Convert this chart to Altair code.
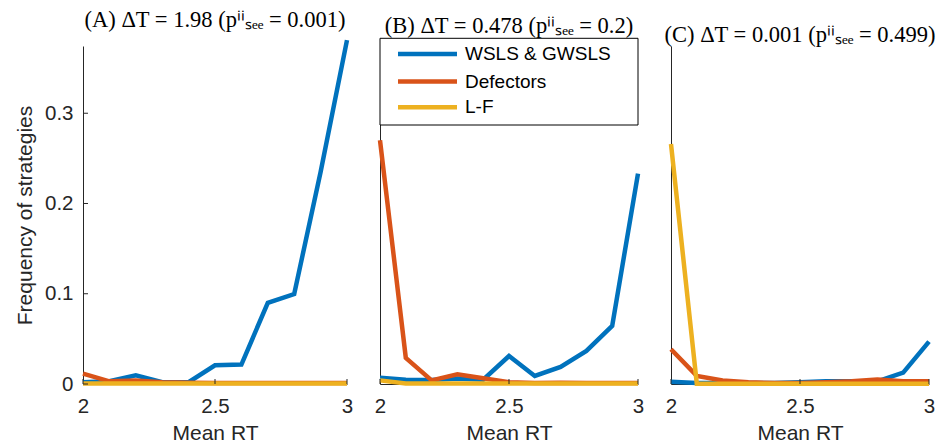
import altair as alt
import pandas as pd

# Mean response time grid (x) shared by all three panels
rt = [2.0, 2.1, 2.2, 2.3, 2.4, 2.5, 2.6, 2.7, 2.8, 2.9, 3.0]

series = ["WSLS & GWSLS", "Defectors", "L-F"]
colors = ["#0072BD", "#D95319", "#EDB120"]

# Panel A
a_wsls = [0.002, 0.003, 0.0097, 0.002, 0.002, 0.0207, 0.0215, 0.090, 0.0997, 0.235, 0.381]
a_defect = [0.0115, 0.003, 0.004, 0.002, 0.0015, 0.001, 0.001, 0.001, 0.001, 0.001, 0.001]
a_lf = [0.0005, 0.0005, 0.0005, 0.0005, 0.0005, 0.0005, 0.0005, 0.0005, 0.0005, 0.0005, 0.0005]

# Panel B
b_wsls = [0.007, 0.0048, 0.0045, 0.006, 0.0048, 0.031, 0.0089, 0.019, 0.0367, 0.0644, 0.233]
b_defect = [0.27, 0.029, 0.004, 0.0107, 0.0063, 0.002, 0.001, 0.0015, 0.001, 0.001, 0.001]
b_lf = [0.004, 0.0005, 0.0005, 0.0005, 0.0005, 0.0005, 0.0005, 0.0005, 0.0005, 0.0005, 0.0005]

# Panel C
c_wsls = [0.0026, 0.001, 0.001, 0.001, 0.001, 0.002, 0.003, 0.003, 0.003, 0.0126, 0.047]
c_defect = [0.0385, 0.009, 0.004, 0.002, 0.001, 0.001, 0.002, 0.003, 0.005, 0.003, 0.003]
c_lf = [0.266, 0.0002, 0.0002, 0.0002, 0.0002, 0.0002, 0.0002, 0.0002, 0.0002, 0.0002, 0.0002]

titles = [
    "(A) ΔT = 1.98 (pⁱⁱₛₑₑ = 0.001)",
    "(B) ΔT = 0.478 (pⁱⁱₛₑₑ = 0.2)",
    "(C) ΔT = 0.001 (pⁱⁱₛₑₑ = 0.499)",
]

x_ticks = [2, 2.5, 3]
y_ticks = [0, 0.1, 0.2, 0.3]

Y_MAX = 0.3745
H = 338
AX = "#262626"
LW = 4.5

cscale = alt.Scale(domain=series, range=colors)


def panel(values, title, width, first=False, legend=False):
    frames = []
    for s, v in zip(series, values):
        frames.append(pd.DataFrame({"rt": rt, "freq": v, "series": s}))

    xenc = alt.X(
        "rt:Q",
        scale=alt.Scale(domain=[2, 3], nice=False, zero=False),
        axis=alt.Axis(values=x_ticks, format="~g", title="Mean RT", labelFlush=False),
    )
    if first:
        yaxis = alt.Axis(values=y_ticks, format="~g", title="Frequency of strategies")
    else:
        yaxis = alt.Axis(labels=False, title=None, values=y_ticks)
    yenc = alt.Y("freq:Q", scale=alt.Scale(domain=[0, Y_MAX], nice=False), axis=yaxis)

    layers = []
    for df in frames:
        layers.append(
            alt.Chart(df)
            .mark_line(strokeWidth=LW, clip=False)
            .encode(x=xenc, y=yenc, color=alt.Color("series:N", scale=cscale, legend=None))
        )

    # inward tick marks on the x axis
    layers.append(
        alt.Chart(pd.DataFrame({"rt": x_ticks}))
        .mark_rule(color=AX, strokeWidth=1)
        .encode(x=alt.X("rt:Q"), y=alt.value(H), y2=alt.value(H - 5))
    )
    if first:
        layers.append(
            alt.Chart(pd.DataFrame({"freq": y_ticks}))
            .mark_rule(color=AX, strokeWidth=1)
            .encode(y=alt.Y("freq:Q"), x=alt.value(0), x2=alt.value(5))
        )

    if legend:
        rows = [8, 35.6, 61.3]
        layers.append(
            alt.Chart(pd.DataFrame({"k": [0]}))
            .mark_rect(fill="white", stroke="black", strokeWidth=1)
            .encode(x=alt.value(0), x2=alt.value(width), y=alt.value(-7.7), y2=alt.value(79))
        )
        for s, r in zip(series, rows):
            d = pd.DataFrame({"series": [s]})
            layers.append(
                alt.Chart(d)
                .mark_rule(strokeWidth=LW)
                .encode(
                    x=alt.value(18), x2=alt.value(77), y=alt.value(r),
                    color=alt.Color("series:N", scale=cscale, legend=None),
                )
            )
            layers.append(
                alt.Chart(d)
                .mark_text(align="left", baseline="middle", fontSize=19,
                           font="Liberation Sans", color="black")
                .encode(x=alt.value(85), y=alt.value(r), text="series:N")
            )

    return alt.layer(*layers).properties(
        width=width, height=H,
        title=alt.TitleParams(title, font="Liberation Serif", fontSize=22.5,
                              fontWeight="normal", color="black", anchor="middle", offset=0),
    )


chart = (
    alt.hconcat(
        panel([a_wsls, a_defect, a_lf], titles[0], 264, first=True),
        panel([b_wsls, b_defect, b_lf], titles[1], 258, legend=True),
        panel([c_wsls, c_defect, c_lf], titles[2], 258),
        spacing=15,
    )
    .properties(padding={"left": 14, "top": 8, "right": 0, "bottom": 0})
    .configure_view(stroke=None)
    .configure_axis(
        grid=False, ticks=False, tickSize=0, domainColor=AX, domainWidth=1,
        labelFont="Liberation Sans", labelFontSize=20.5, labelColor=AX,
        titleFont="Liberation Sans", titleFontSize=21, titleColor=AX, titleFontWeight="normal",
    )
    .configure_axisX(labelPadding=12, titlePadding=6)
    .configure_axisY(labelPadding=10, titlePadding=9)
)

chart.save("out.html", embed_options={"renderer": "svg", "actions": False})
